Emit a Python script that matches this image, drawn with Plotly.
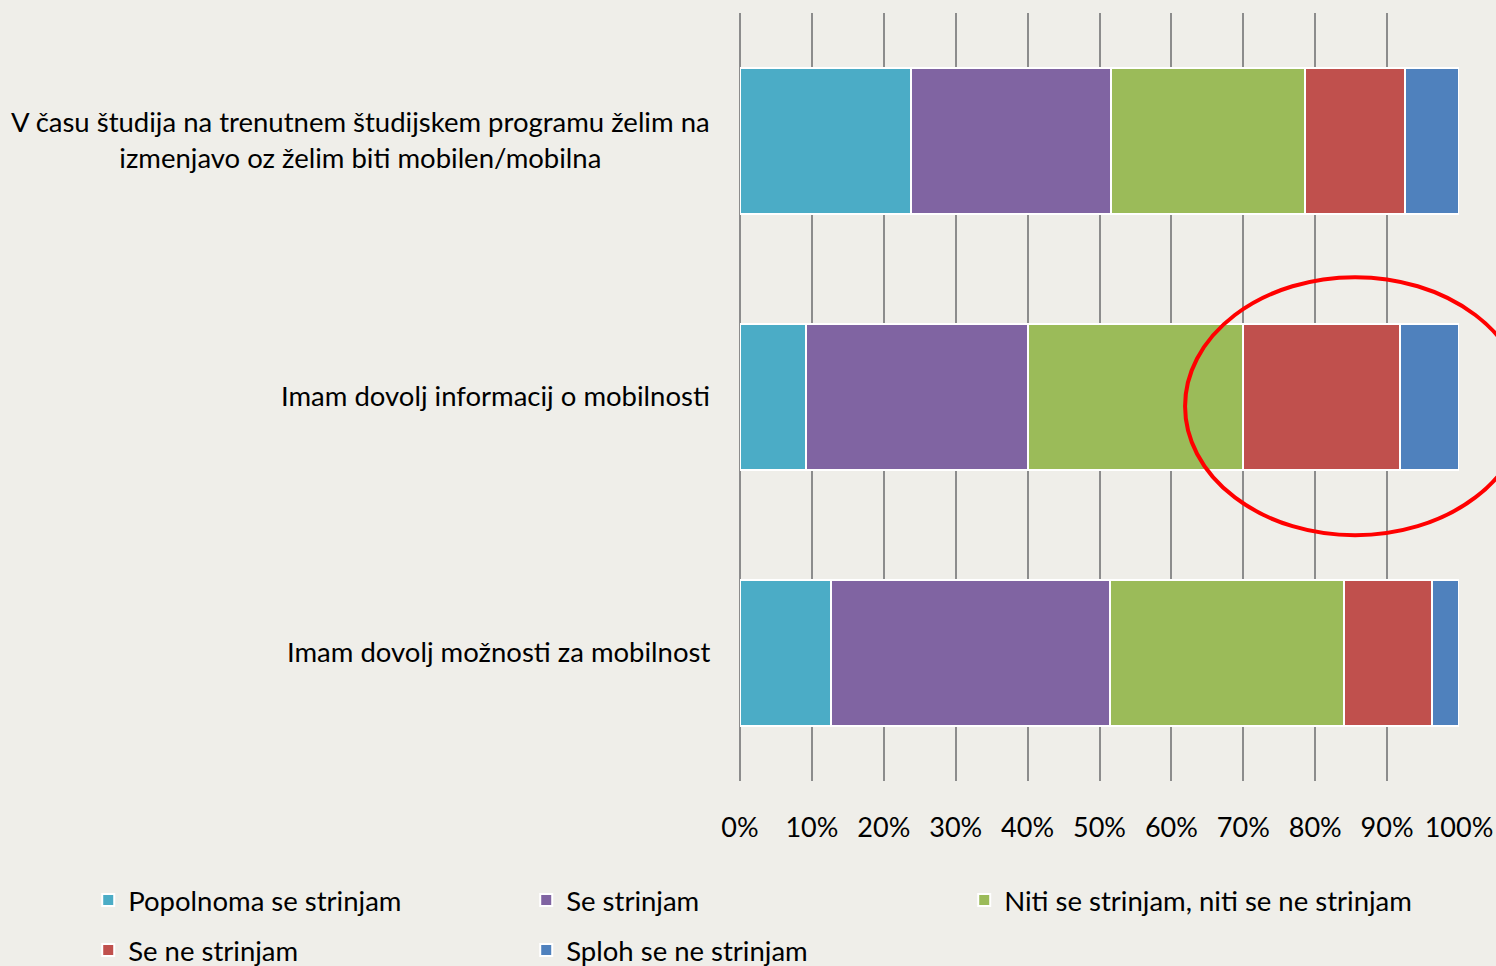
import plotly.graph_objects as go

categories = [
    "V času študija na trenutnem študijskem programu želim na<br>izmenjavo oz želim biti mobilen/mobilna",
    "Imam dovolj informacij o mobilnosti",
    "Imam dovolj možnosti za mobilnost",
]
series_names = [
    "Popolnoma se strinjam",
    "Se strinjam",
    "Niti se strinjam, niti se ne strinjam",
    "Se ne strinjam",
    "Sploh se ne strinjam",
]
popolnoma = [23.8, 9.2, 12.7]
se_strinjam = [27.8, 30.9, 38.8]
niti = [27.0, 29.9, 32.5]
se_ne = [13.9, 21.8, 12.2]
sploh = [7.5, 8.2, 3.8]
values = [popolnoma, se_strinjam, niti, se_ne, sploh]
colors = ["#4BACC6", "#8064A2", "#9BBB59", "#C0504D", "#4F81BD"]
legend_groups = ["legend", "legend", "legend3", "legend2", "legend2"]
x_ticks = list(range(0, 101, 10))

FONT = "Lato, 'Open Sans', sans-serif"
FS = 27.5
BG = "#EFEEE9"

fig = go.Figure()
for name, vals, col, lg in zip(series_names, values, colors, legend_groups):
    fig.add_trace(go.Bar(
        y=list(range(len(categories))), x=vals, name=name, orientation="h",
        marker=dict(color=col, line=dict(color="white", width=2)),
        width=0.57, hoverinfo="x+name", legend=lg,
    ))

for i, cat in enumerate(categories):
    fig.add_annotation(
        xref="paper", yref="y", x=0, y=i, xanchor="right", yanchor="middle",
        xshift=-28, yshift=2, text=cat, showarrow=False, align="center",
        font=dict(family=FONT, size=FS, color="black"),
    )

# highlight ellipse
fig.add_shape(type="circle", xref="paper", yref="paper",
              x0=0.619, x1=1.092, y0=0.320, y1=0.656,
              line=dict(color="#FF0000", width=4), layer="above")

legend_common = dict(
    orientation="h", xanchor="left", yanchor="middle",
    font=dict(family=FONT, size=FS, color="black"),
    traceorder="normal", bgcolor="rgba(0,0,0,0)",
    itemclick=False, itemdoubleclick=False,
)
X0 = -0.9065
row1_y = (781 - 900) / 768
row2_y = (781 - 950) / 768

fig.update_layout(
    barmode="stack",
    width=1496, height=966,
    paper_bgcolor=BG, plot_bgcolor=BG,
    margin=dict(l=740, r=37, t=13, b=185, autoexpand=False),
    font=dict(family=FONT, size=FS, color="black"),
    showlegend=True,
    legend=dict(x=X0, y=row1_y, entrywidth=393, entrywidthmode="pixels", **legend_common),
    legend2=dict(x=X0, y=row2_y, entrywidth=393, entrywidthmode="pixels", **legend_common),
    legend3=dict(x=X0 + 2 * 438 / 719, y=row1_y, **legend_common),
    xaxis=dict(
        range=[0, 100], tickvals=x_ticks, ticktext=[f"{v}%" for v in x_ticks],
        showgrid=True, gridcolor="#8C8C8C", gridwidth=2,
        zeroline=True, zerolinecolor="#8C8C8C", zerolinewidth=2,
        showline=False, ticks="", ticklabelstandoff=28,
        tickfont=dict(family=FONT, size=27, color="black"),
        automargin=False,
    ),
    yaxis=dict(
        range=[2.5, -0.5], showticklabels=False, showgrid=False,
        zeroline=False, showline=False, ticks="", automargin=False,
    ),
)

fig.write_html("out.html", config={"displayModeBar": False},
               post_script="document.body.style.margin='0';document.body.style.background='%s';" % BG)
